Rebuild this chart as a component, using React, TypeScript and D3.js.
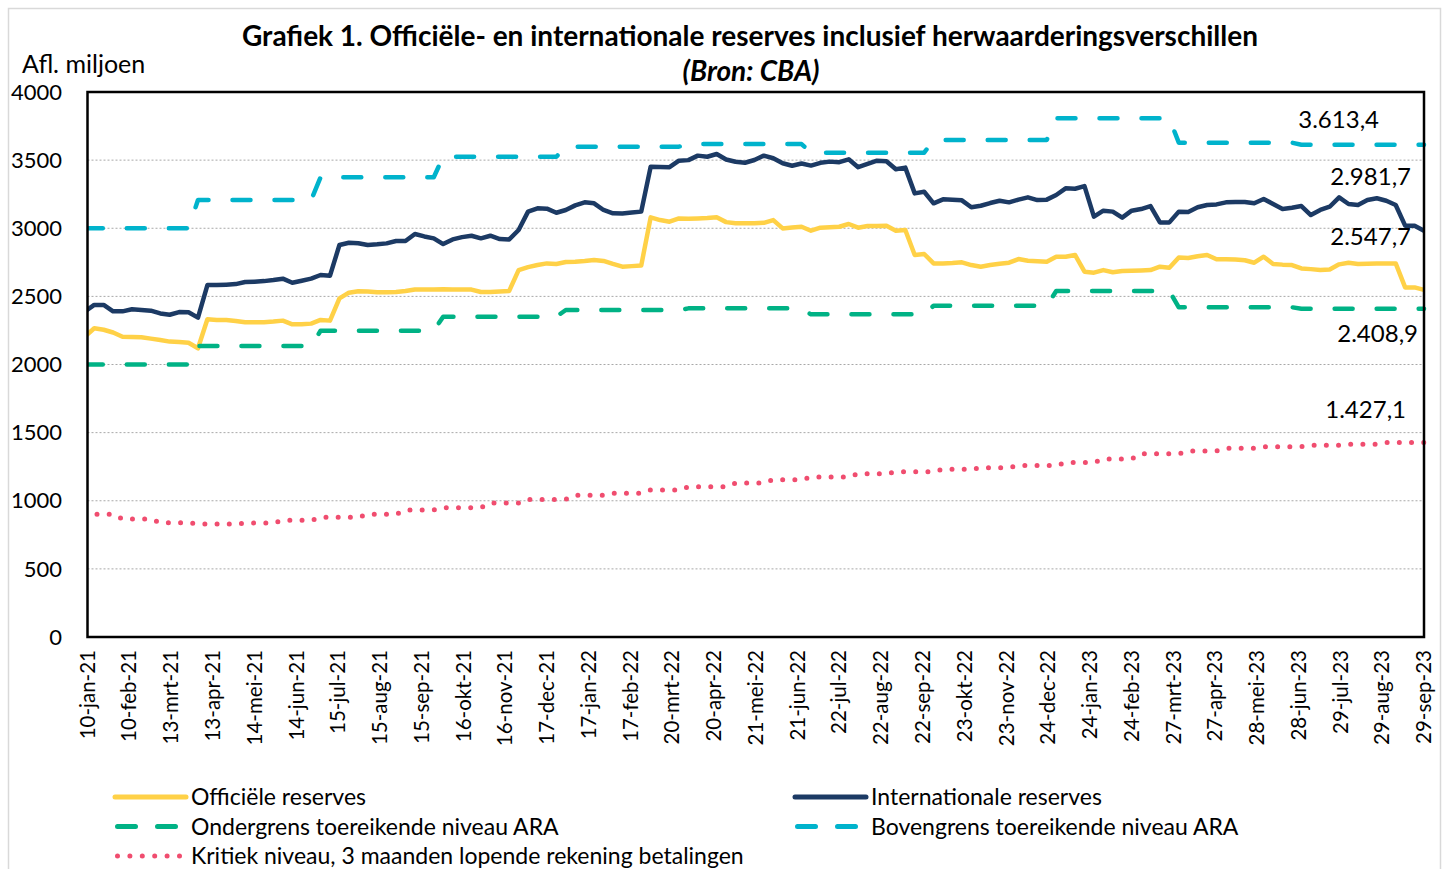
import { useEffect, useRef } from 'react'
import * as d3 from 'd3'

const W = 1448, H = 869
const P = { left: 87.5, right: 1424, top: 92, bottom: 637 }
const FONT = 'Lato, "Open Sans", sans-serif'

// weekly readings (Fridays), first one just before the axis start
const FIRST_FRIDAY = '2021-01-08'

const OFFICIAL = [
  2204, 2266, 2255, 2235, 2204, 2202, 2200, 2190, 2180, 2168, 2165, 2160, 2119,
  2332, 2327, 2327, 2320, 2310, 2310, 2310, 2315, 2322, 2295, 2295, 2300, 2327, 2322,
  2485, 2527, 2538, 2535, 2530, 2530, 2532, 2540, 2551, 2551,
  2551, 2552, 2550, 2551, 2550, 2532, 2533, 2536, 2540,
  2693, 2715, 2730, 2742, 2738, 2752, 2755, 2760, 2767, 2760, 2738, 2718, 2722, 2726,
  3080, 3060, 3048, 3072, 3070, 3072, 3075, 3080, 3045, 3036, 3036, 3036,
  3040, 3060, 2999, 3005, 3011, 2982, 3004, 3008, 3011, 3031, 3004, 3016, 3017, 3019, 2982, 2987,
  2804, 2811, 2742, 2742, 2745, 2750, 2730, 2718, 2730, 2740, 2747, 2774, 2762, 2758, 2755, 2791, 2791, 2804, 2681, 2674,
  2693, 2677, 2686, 2688, 2690, 2693, 2718, 2710, 2785, 2782, 2795, 2804, 2772, 2772, 2770, 2765, 2747, 2791,
  2738, 2733, 2730, 2705, 2700, 2693, 2698, 2735, 2747, 2738, 2740, 2742, 2742, 2742, 2566, 2566, 2547.7,
]

const INTERNATIONAL = [
  2388, 2437, 2437, 2390, 2390, 2405, 2400, 2395, 2375, 2365, 2385, 2383, 2344,
  2583, 2583, 2586, 2590, 2605, 2608, 2612, 2620, 2630, 2600, 2615, 2630, 2657, 2652,
  2877, 2894, 2890, 2877, 2882, 2889, 2906, 2906, 2958, 2940,
  2926, 2884, 2918, 2935, 2945, 2926, 2945, 2921, 2918,
  2987, 3122, 3146, 3144, 3114, 3134, 3168, 3190, 3183, 3134, 3110, 3108, 3115, 3122,
  3452, 3450, 3448, 3496, 3500, 3533, 3525, 3545, 3505, 3488, 3481, 3501,
  3533, 3514, 3477, 3459, 3475, 3460, 3480, 3489, 3485, 3506, 3448, 3472, 3496, 3492, 3433, 3445,
  3256, 3268, 3183, 3212, 3210, 3205, 3154, 3165, 3185, 3202, 3190, 3210, 3227, 3207, 3210, 3244, 3293, 3290, 3309, 3085,
  3129, 3122, 3078, 3129, 3141, 3163, 3043, 3043, 3122, 3120, 3154, 3171, 3175, 3190, 3192, 3192, 3183, 3215,
  3178, 3141, 3150, 3163, 3097, 3134, 3158, 3227, 3178, 3171, 3207, 3220, 3202, 3171, 3019, 3019, 2981.7,
]

// ARA bounds, set per quarter
const QUARTER_STARTS = [
  '2021-01-08', '2021-04-02', '2021-07-02', '2021-10-01', '2021-12-31', '2022-04-01',
  '2022-07-01', '2022-09-30', '2022-12-30', '2023-03-31', '2023-06-30',
]
const ARA_LOW  = [2000, 2136, 2248, 2351, 2400, 2412, 2368, 2431, 2539, 2420, 2408.9]
const ARA_HIGH = [3000, 3207, 3374, 3525, 3599, 3618, 3555, 3648, 3807, 3628, 3613.4]

// 3 months current account payments, per month jan-21 .. sep-23
const CRITICAL = [
  901, 866, 839, 829, 836, 856, 878, 901, 932, 949, 983, 1010,
  1040, 1055, 1079, 1103, 1130, 1155, 1174, 1199, 1213, 1231, 1243, 1258,
  1280, 1306, 1345, 1365, 1385, 1397, 1407, 1414, 1427.1,
]

const X_TICKS = [
  '2021-01-10', '2021-02-10', '2021-03-13', '2021-04-13', '2021-05-14', '2021-06-14', '2021-07-15',
  '2021-08-15', '2021-09-15', '2021-10-16', '2021-11-16', '2021-12-17', '2022-01-17', '2022-02-17',
  '2022-03-20', '2022-04-20', '2022-05-21', '2022-06-21', '2022-07-22', '2022-08-22', '2022-09-22',
  '2022-10-23', '2022-11-23', '2022-12-24', '2023-01-24', '2023-02-24', '2023-03-27', '2023-04-27',
  '2023-05-28', '2023-06-28', '2023-07-29', '2023-08-29', '2023-09-29',
]
const Y_TICKS = [0, 500, 1000, 1500, 2000, 2500, 3000, 3500, 4000]
const MONTHS_NL = ['jan','feb','mrt','apr','mei','jun','jul','aug','sep','okt','nov','dec']

const C = {
  official: '#ffd147',
  intl:     '#1c3a64',
  low:      '#00b285',
  high:     '#00b3cc',
  crit:     '#f04d6f',
}

const nl = d3.formatLocale({ decimal: ',', thousands: '.', grouping: [3], currency: ['', ''] })
const fmtNL = nl.format(',.1f')

export default function App() {
  const svgRef = useRef<SVGSVGElement>(null)

  useEffect(() => {
    const svg = d3.select(svgRef.current!)
    svg.selectAll('*').remove()

    const parse = d3.timeParse('%Y-%m-%d')
    const start = parse(FIRST_FRIDAY)!
    const weeks = OFFICIAL.map((_, i) => d3.timeDay.offset(start, 7 * i))
    const qStarts = QUARTER_STARTS.map(s => parse(s)!)
    const quarterOf = (d: Date) => d3.bisectRight(qStarts, d) - 1
    const monthOf = (d: Date) => (d.getFullYear() - 2021) * 12 + d.getMonth()

    const xTicks = X_TICKS.map(s => parse(s)!)
    const x = d3.scaleTime().domain([xTicks[0], xTicks[xTicks.length - 1]]).range([P.left, P.right])
    const y = d3.scaleLinear().domain([0, 4000]).range([P.bottom, P.top])

    // outer chart border
    svg.append('rect')
      .attr('x', 8.5).attr('y', 8.5).attr('width', 1432).attr('height', 900)
      .attr('fill', '#fff').attr('stroke', '#d9d9d9').attr('stroke-width', 1.5)

    // ── titles ────────────────────────────────────────────────────────────
    svg.append('text')
      .attr('x', 750).attr('y', 46).attr('text-anchor', 'middle')
      .attr('font-family', FONT).attr('font-size', 28).attr('font-weight', 700).attr('fill', '#000')
      .text('Grafiek 1. Officiële- en internationale reserves inclusief herwaarderingsverschillen')
    svg.append('text')
      .attr('x', 751).attr('y', 81).attr('text-anchor', 'middle')
      .attr('font-family', FONT).attr('font-size', 28).attr('font-weight', 700)
      .attr('font-style', 'italic').attr('fill', '#000')
      .text('(Bron: CBA)')
    svg.append('text')
      .attr('x', 22).attr('y', 73)
      .attr('font-family', FONT).attr('font-size', 25).attr('fill', '#000')
      .text('Afl. miljoen')

    // ── grid + y labels ───────────────────────────────────────────────────
    svg.append('g').selectAll('line')
      .data(Y_TICKS.filter(v => v > 0 && v < 4000))
      .join('line')
      .attr('x1', P.left).attr('x2', P.right)
      .attr('y1', d => y(d)).attr('y2', d => y(d))
      .attr('stroke', '#a8a8a8').attr('stroke-width', 1).attr('stroke-dasharray', '2 2')

    svg.append('g').selectAll('text')
      .data(Y_TICKS)
      .join('text')
      .attr('x', 62).attr('y', d => y(d)).attr('dy', '0.35em')
      .attr('text-anchor', 'end')
      .attr('font-family', FONT).attr('font-size', 22).attr('fill', '#000')
      .text(d => String(d))

    // ── x labels ──────────────────────────────────────────────────────────
    svg.append('g').selectAll('text')
      .data(xTicks)
      .join('text')
      .attr('transform', d => `translate(${x(d)},${P.bottom + 13}) rotate(-90)`)
      .attr('dy', '0.35em').attr('text-anchor', 'end')
      .attr('font-family', FONT).attr('font-size', 20.5).attr('fill', '#000')
      .text(d => `${d.getDate()}-${MONTHS_NL[d.getMonth()]}-${String(d.getFullYear()).slice(2)}`)

    // ── series ────────────────────────────────────────────────────────────
    svg.append('clipPath').attr('id', 'plot-clip')
      .append('rect')
      .attr('x', P.left).attr('y', P.top - 10)
      .attr('width', P.right - P.left + 6).attr('height', P.bottom - P.top + 10)

    const series = [
      { vals: OFFICIAL,                                    color: C.official, w: 4.5, dash: '' },
      { vals: INTERNATIONAL,                               color: C.intl,     w: 4.5, dash: '' },
      { vals: weeks.map(d => ARA_LOW[quarterOf(d)]),       color: C.low,      w: 4.5, dash: '18 24' },
      { vals: weeks.map(d => ARA_HIGH[quarterOf(d)]),      color: C.high,     w: 4.5, dash: '18 24' },
      { vals: weeks.map(d => CRITICAL[monthOf(d)]),        color: C.crit,     w: 5,   dash: '0 12.2' },
    ]

    const gLines = svg.append('g').attr('clip-path', 'url(#plot-clip)')
    series.forEach(s => {
      const line = d3.line<number>().x((_, i) => x(weeks[i])).y(v => y(v))
      gLines.append('path')
        .attr('d', line(s.vals))
        .attr('fill', 'none').attr('stroke', s.color).attr('stroke-width', s.w)
        .attr('stroke-linejoin', 'round').attr('stroke-linecap', s.dash ? 'round' : 'butt')
        .attr('stroke-dasharray', s.dash || null)
    })

    // plot border
    svg.append('rect')
      .attr('x', P.left).attr('y', P.top)
      .attr('width', P.right - P.left).attr('height', P.bottom - P.top)
      .attr('fill', 'none').attr('stroke', '#000').attr('stroke-width', 2.5)

    // ── end value labels ──────────────────────────────────────────────────
    const endLabels = [
      { v: ARA_HIGH[ARA_HIGH.length - 1],           ex: 1379, dy: -17 },
      { v: INTERNATIONAL[INTERNATIONAL.length - 1], ex: 1411, dy: -46 },
      { v: OFFICIAL[OFFICIAL.length - 1],           ex: 1411, dy: -45 },
      { v: ARA_LOW[ARA_LOW.length - 1],             ex: 1418, dy: 33 },
      { v: CRITICAL[CRITICAL.length - 1],           ex: 1406, dy: -25 },
    ]
    svg.append('g').selectAll('text')
      .data(endLabels)
      .join('text')
      .attr('x', d => d.ex).attr('y', d => y(d.v) + d.dy)
      .attr('text-anchor', 'end')
      .attr('font-family', FONT).attr('font-size', 24).attr('fill', '#000')
      .text(d => fmtNL(d.v))

    // ── legend ────────────────────────────────────────────────────────────
    const legend = [
      { label: 'Officiële reserves',                                  color: C.official, dash: '' },
      { label: 'Internationale reserves',                             color: C.intl,     dash: '' },
      { label: 'Ondergrens toereikende niveau ARA',                   color: C.low,      dash: '18 22' },
      { label: 'Bovengrens toereikende niveau ARA',                   color: C.high,     dash: '18 22' },
      { label: 'Kritiek niveau, 3 maanden lopende rekening betalingen', color: C.crit,   dash: '0 12.4' },
    ]
    const lg = svg.append('g')
    legend.forEach((l, i) => {
      const lx = i % 2 === 0 ? 115 : 795
      const ly = 797 + Math.floor(i / 2) * 29.5
      const inset = l.dash ? 2.5 : 0
      lg.append('line')
        .attr('x1', lx + inset).attr('x2', lx + 71 - inset).attr('y1', ly).attr('y2', ly)
        .attr('stroke', l.color).attr('stroke-width', 5)
        .attr('stroke-linecap', 'round')
        .attr('stroke-dasharray', l.dash || null)
      lg.append('text')
        .attr('x', lx + 76).attr('y', ly + 8)
        .attr('font-family', FONT).attr('font-size', 23).attr('fill', '#000')
        .text(l.label)
    })
  }, [])

  return (
    <div style={{ position: 'absolute', left: 0, top: 0, width: W, height: H, background: '#fff' }}>
      <svg ref={svgRef} width={W} height={H} style={{ display: 'block' }} />
    </div>
  )
}
